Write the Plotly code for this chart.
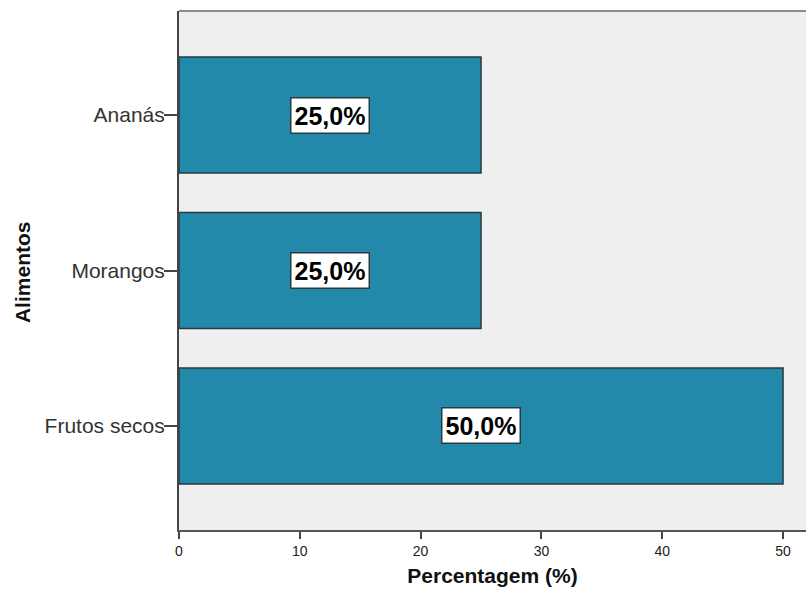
import plotly.graph_objects as go

# Food categories (bottom to top) and their share of responses
alimentos = ["Frutos secos", "Morangos", "Ananás"]
percentagem = [50.0, 25.0, 25.0]
rotulos = ["50,0%", "25,0%", "25,0%"]
x_ticks = [0, 10, 20, 30, 40, 50]

BAR_COLOR = "#2389AB"
FONT = "Liberation Sans, Arial, sans-serif"

fig = go.Figure()
fig.add_trace(go.Bar(
    y=alimentos,
    x=percentagem,
    orientation="h",
    marker=dict(color=BAR_COLOR, line=dict(color="#2b3a40", width=1.5)),
    hoverinfo="skip",
))

# Boxed value labels centred on each bar
for cat, val, lab in zip(alimentos, percentagem, rotulos):
    fig.add_annotation(
        x=val / 2, y=cat, xref="x", yref="y",
        text=f"<b>{lab}</b>", showarrow=False,
        font=dict(family=FONT, size=25, color="#000000"),
        bgcolor="#ffffff", bordercolor="#2b3a40", borderwidth=1.5, borderpad=3,
    )

# Vertical axis title, placed near the left edge
fig.add_annotation(
    x=-0.2504, y=0.497, xref="paper", yref="paper",
    text="<b>Alimentos</b>", textangle=-90, showarrow=False,
    xanchor="center", yanchor="middle",
    font=dict(family=FONT, size=21, color="#111111"),
)

# Top frame line of the plot area
fig.add_shape(type="line", xref="paper", yref="paper", x0=0, x1=1, y0=1, y1=1,
              line=dict(color="#8c8c8c", width=2))

fig.update_layout(
    width=806, height=594,
    margin=dict(l=179, r=0, t=11, b=64),
    paper_bgcolor="#ffffff",
    plot_bgcolor="#efefef",
    bargap=0.254,
    showlegend=False,
    font=dict(family=FONT, color="#222222"),
)

fig.update_xaxes(
    range=[0, 51.9],
    tickvals=x_ticks,
    ticktext=[str(v) for v in x_ticks],
    showgrid=False, zeroline=False,
    showline=True, linecolor="#555555", linewidth=2,
    ticks="outside", ticklen=7, tickwidth=2, tickcolor="#444444",
    tickfont=dict(family=FONT, size=14, color="#222222"),
    title=dict(text="<b>Percentagem (%)</b>", font=dict(family=FONT, size=21, color="#111111"), standoff=11),
    automargin=False,
)

fig.update_yaxes(
    type="category",
    categoryorder="array", categoryarray=alimentos,
    range=[-0.669, 2.669],
    showgrid=False, zeroline=False,
    showline=True, linecolor="#444444", linewidth=2,
    ticks="outside", ticklen=13, tickwidth=2, tickcolor="#444444",
    ticklabelstandoff=-5,
    tickfont=dict(family=FONT, size=21, color="#333333"),
    automargin=False,
)

fig.write_html("out.html")
